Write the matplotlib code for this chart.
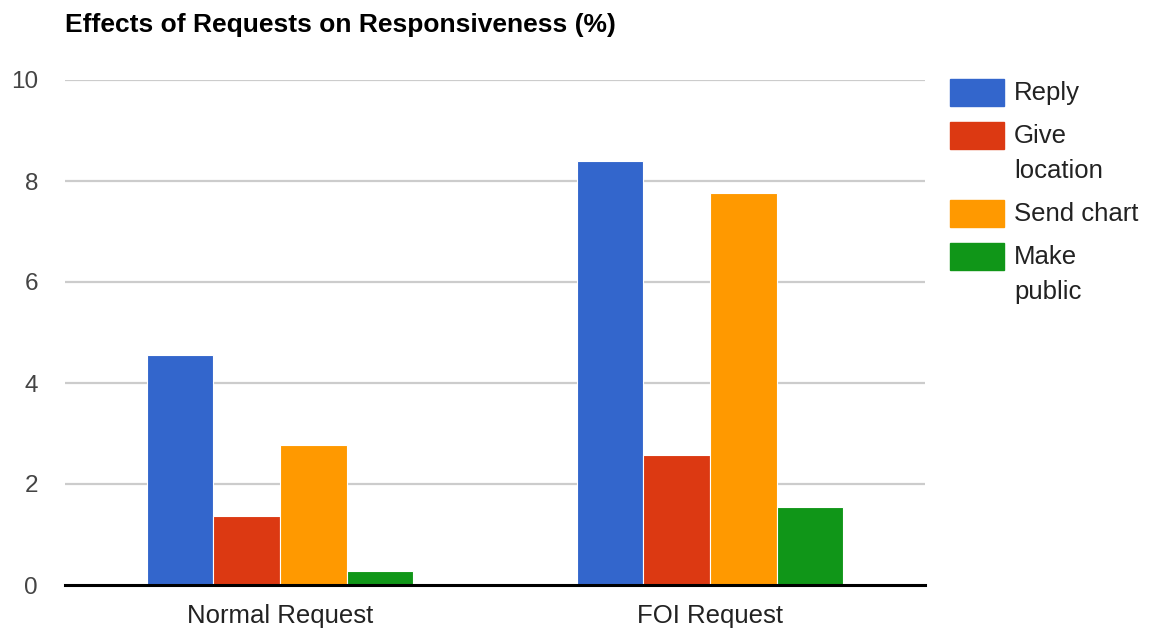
import textwrap
import numpy as np
import matplotlib
matplotlib.use("Agg")
import matplotlib.pyplot as plt
from matplotlib.patches import Rectangle

categories = ["Normal Request", "FOI Request"]
series = ["Reply", "Give location", "Send chart", "Make public"]
reply = [4.56, 8.39]
give_location = [1.36, 2.58]
send_chart = [2.78, 7.77]
make_public = [0.27, 1.55]
colors = ["#3366cc", "#dc3912", "#ff9900", "#109618"]
yticks = [0, 2, 4, 6, 8, 10]

plt.rcParams["font.family"] = ["Liberation Sans", "DejaVu Sans"]

W, H = 1155, 630
fig = plt.figure(figsize=(W / 100, H / 100), dpi=100)
ax = fig.add_axes([65 / W, 1 - 585 / H, 860 / W, 505 / H])

values = [reply, give_location, send_chart, make_public]
x = np.arange(len(categories))
w = 0.1547
for j, vals in enumerate(values):
    ax.bar(x + (j - 1.5) * w, vals, width=w, color=colors[j],
           edgecolor="white", linewidth=0.8, zorder=2)

ax.set_xlim(-0.5, len(categories) - 0.5)
ax.set_ylim(0, 10)
ax.set_yticks(yticks)
ax.set_yticklabels([str(t) for t in yticks])
ax.set_xticks(x)
ax.set_xticklabels(categories)
ax.tick_params(axis="y", length=0, pad=19.5, labelsize=17.5, labelcolor="#444444")
ax.tick_params(axis="x", length=0, pad=14, labelsize=18.5, labelcolor="#222222")
for t in yticks[1:]:
    ax.axhline(t, color="#cccccc", lw=1.6, zorder=1)
ax.axhline(0, color="black", lw=2.2, zorder=3, clip_on=False)
for s in ax.spines.values():
    s.set_visible(False)

fig.text(65 / W, 1 - 25 / H, "Effects of Requests on Responsiveness (%)",
         fontsize=19, fontweight="bold", color="black", va="center", ha="left")

# legend
top = 79
for j, name in enumerate(series):
    lines = textwrap.fill(name, 10).split("\n")
    fig.add_artist(Rectangle((950 / W, 1 - (top + 27) / H), 54 / W, 27 / H,
                             transform=fig.transFigure, color=colors[j]))
    for k, line in enumerate(lines):
        fig.text(1014 / W, 1 - (top + 14 + 35 * k) / H, line, fontsize=18.5,
                 color="#222222", va="center", ha="left")
    top += 43 + 35 * (len(lines) - 1)

fig.savefig("out.png", dpi=100)
